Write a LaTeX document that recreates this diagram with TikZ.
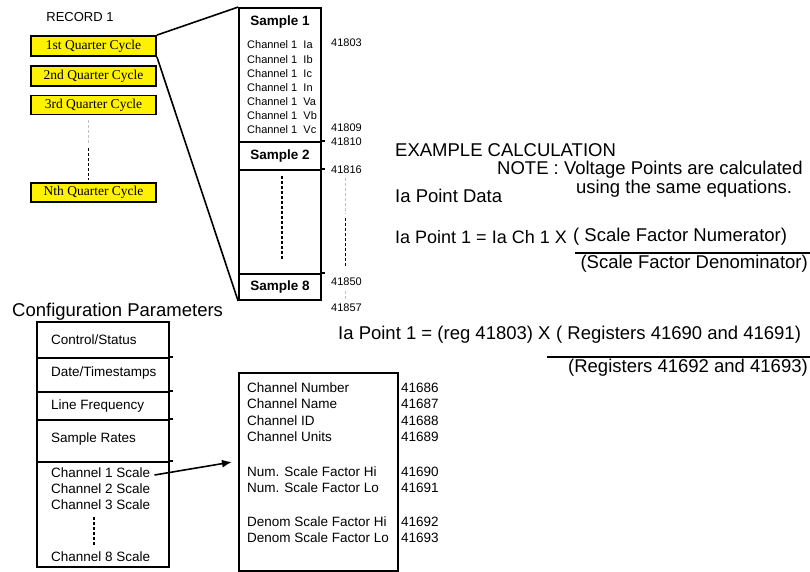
\documentclass[tikz,border=0pt]{standalone}
\usepackage{fontspec}
\setmainfont{Liberation Serif}
\setsansfont{Liberation Sans}
\usetikzlibrary{arrows.meta}
\newcommand{\fsz}[1]{\fontsize{#1}{#1}\selectfont}

\tikzset{
  box/.style={draw, line width=1.8pt, inner sep=0pt},
  qbox/.style={box, fill=yellow, minimum width=125pt, minimum height=20pt, font=\rmfamily\fsz{13.5}},
  sect/.style={box, minimum width=82pt},
  cfg/.style={box, minimum width=132pt},
  tiny/.style={anchor=west, inner sep=0pt, font=\sffamily\fsz{11}},
  lbl/.style={anchor=west, inner sep=0pt, font=\sffamily\fsz{13.5}},
  big/.style={anchor=west, inner sep=0pt, font=\sffamily\fsz{18.5}},
  guide/.style={gray!50, line width=0.6pt, dash pattern=on 3pt off 2pt},
  guidedark/.style={line width=0.9pt, dash pattern=on 3pt off 2pt},
  dots/.style={line width=2pt, dash pattern=on 3pt off 2pt}
}

\begin{document}
\begin{tikzpicture}[x=1pt, y=-1pt]
\useasboundingbox (0,0) rectangle (810,572);

% record and quarter cycles
\node[inner sep=0pt, font=\sffamily\fsz{13}] (rec) at (80,17) {RECORD 1};
\node[qbox] (q1) at (93.5,46) {1st Quarter Cycle};
\node[qbox] (q2) at (93.5,76) {2nd Quarter Cycle};
\node[qbox, minimum height=19pt] (q3) at (93.5,105) {3rd Quarter Cycle};
\node[qbox, minimum height=19pt] (qn) at (93.5,192.5) {Nth Quarter Cycle};
\draw[guide] (88,120) -- (88,145);
\draw[guidedark] (88,148) -- (88,180);

% sample column
\node[sect, minimum height=134pt] (s1) at (280,75) {};
\node[sect, minimum height=28pt] (s2) at (280,156) {};
\node[sect, minimum height=104pt] (sg) at (280,222) {};
\node[sect, minimum height=26pt] (s8) at (280,287) {};
\node[font=\sffamily\bfseries\fsz{13.5}] at (280,22) {Sample 1};
\node[font=\sffamily\bfseries\fsz{13.5}] at (s2) {Sample 2};
\node[font=\sffamily\bfseries\fsz{13.5}] at (s8) {Sample 8};
\foreach \n [count=\i] in {Ia,Ib,Ic,In,Va,Vb,Vc}
  \node[tiny] (ch\i) at (247,30.8+14.17*\i) {Channel 1\ \ \n};
\draw[dots] (282,176) -- (282,260);
\foreach \s in {s2,sg,s8}
  \draw[line width=1.8pt] (\s.north east) -- ++(3,0);

\node[tiny] (n03) at (331,43) {41803};
\node[tiny] (n09) at (331,128) {41809};
\node[tiny] (n10) at (331,142) {41810};
\node[tiny] (n16) at (331,170) {41816};
\node[tiny] (n50) at (331,282) {41850};
\node[tiny] (n57) at (331,308) {41857};
\draw[guide] (345,178) -- (345,214);
\draw[guidedark] (345,218) -- (345,267);
\draw[guide] (345,291) -- (345,300);

\draw[line width=1.6pt] (q1.north east) -- (s1.north west);
\draw[line width=1.6pt] (q1.south east) -- (s8.south west);

% example calculation
\node[big] (ex) at (395,150) {EXAMPLE CALCULATION};
\node[big] (note) at (497,170) {NOTE : Voltage Points are calculated};
\node[inner sep=0pt, font=\sffamily\fsz{18.5}] (note2) at (684,189) {using the same equations.};
\node[big] (iad) at (395,196) {Ia Point Data};
\node[big, font=\sffamily\fsz{18}] (eq1) at (395,237) {Ia Point 1 = Ia Ch 1 X};
\node[big] (num1) at (573,237) {( Scale Factor Numerator)};
\node[big, anchor=east] (den1) at (808,264) {(Scale Factor Denominator)};
\draw[line width=1.8pt] (575,253) -- (810,253);

\node[big] (eq2) at (338,335) {Ia Point 1 = (reg 41803) X};
\node[big] (num2) at (556,335) {( Registers 41690 and 41691)};
\node[big, anchor=east] (den2) at (808,368) {(Registers 41692 and 41693)};
\draw[line width=1.8pt] (547,357) -- (810,357);

% configuration parameters
\node[big] (cfgt) at (12,312) {Configuration Parameters};
\node[cfg, minimum height=36pt] (c1) at (103,340) {};
\node[cfg, minimum height=34pt] (c2) at (103,375) {};
\node[cfg, minimum height=28pt] (c3) at (103,406) {};
\node[cfg, minimum height=42pt] (c4) at (103,441) {};
\node[cfg, minimum height=105pt] (c5) at (103,514.5) {};
\foreach \s in {c2,c3,c4,c5}
  \draw[line width=1.8pt] (\s.north east) -- ++(3,0);
\node[lbl] (ctl) at (51,340) {Control/Status};
\node[lbl] (dat) at (51,373) {Date/Timestamps};
\node[lbl] (frq) at (51,406) {Line Frequency};
\node[lbl] (rat) at (51,439) {Sample Rates};
\node[lbl] (cs1) at (51,473) {Channel 1 Scale};
\node[lbl] (cs2) at (51,489) {Channel 2 Scale};
\node[lbl] (cs3) at (51,505) {Channel 3 Scale};
\node[lbl] (cs8) at (51,557) {Channel 8 Scale};
\draw[dots] (94,517) -- (94,545);

% channel scale registers
\node[box, minimum width=159pt, minimum height=198pt] (reg) at (318.5,472) {};
\foreach \t/\v/\y in {Channel Number/41686/388, Channel Name/41687/404,
    Channel ID/41688/421, Channel Units/41689/437,
    Num. Scale Factor Hi/41690/472, Num. Scale Factor Lo/41691/488,
    Denom Scale Factor Hi/41692/522, Denom Scale Factor Lo/41693/538}
  {\node[lbl] at (247,\y) {\t};
   \node[lbl] at (401,\y) {\v};}
\coordinate (tip) at (232,462);
\draw[line width=1.6pt, -{Latex[length=10pt, width=8pt]}] ([xshift=4pt, yshift=-2pt]cs1.east) -- (tip);
\end{tikzpicture}
\end{document}
